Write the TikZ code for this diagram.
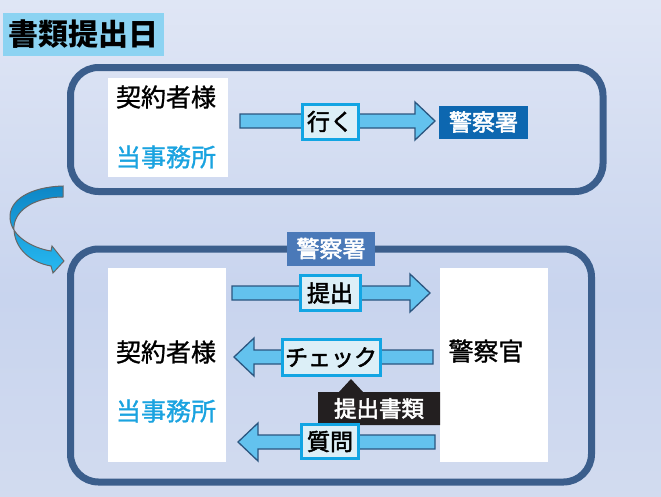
\documentclass[tikz,border=0pt]{standalone}
\usepackage{fontspec}
\setmainfont{Noto Sans CJK JP}
\newfontfamily\cjkmed{Noto Sans CJK JP}[FakeBold=1.2]
\newfontfamily\cjksemi{Noto Sans CJK JP}[FakeBold=2.2]
\usetikzlibrary{calc}
\definecolor{bgtop}{HTML}{F3F5FB}
\definecolor{bgmid}{HTML}{C8D4EE}
\definecolor{bgbot}{HTML}{DEE4F1}
\definecolor{frame}{HTML}{3B5E8C}
\definecolor{titlefill}{HTML}{8CD3F2}
\definecolor{arrfill}{HTML}{63C2EE}
\definecolor{arrline}{HTML}{2B5680}
\definecolor{lblfill}{HTML}{DCEFF7}
\definecolor{lblline}{HTML}{12A5E3}
\definecolor{darkblue}{HTML}{0D67B0}
\definecolor{midblue}{HTML}{4A79B8}
\definecolor{cyantext}{HTML}{1AA3E0}
\definecolor{callout}{HTML}{231F20}
\definecolor{curvetop}{HTML}{0E86C6}
\definecolor{curvebot}{HTML}{27B9F1}
\pgfdeclareverticalshading{bgshade}{100bp}{color(0bp)=(bgbot); color(45bp)=(bgmid); color(100bp)=(bgtop)}
\newcommand\fs[1]{\fontsize{#1pt}{#1pt}\selectfont}
\newcommand\rblk[3]{\draw[blk] (#1,#3-7) -- (#2-20,#3-7) -- (#2-20,#3-19) -- (#2,#3) -- (#2-20,#3+19) -- (#2-20,#3+7) -- (#1,#3+7) -- cycle;}
\newcommand\lblk[3]{\draw[blk] (#1,#3-7) -- (#2+20,#3-7) -- (#2+20,#3-19) -- (#2,#3) -- (#2+20,#3+19) -- (#2+20,#3+7) -- (#1,#3+7) -- cycle;}
\tikzset{
  frm/.style={draw=frame, line width=7pt, rounded corners=28pt},
  wbox/.style={fill=white, inner sep=0pt},
  blk/.style={fill=arrfill, draw=arrline, line width=1.3pt, line join=miter},
  lbl/.style={fill=lblfill, draw=lblline, line width=3pt, inner sep=0pt, font=\cjksemi\fs{23}},
  ttl/.style={fill=titlefill, inner sep=0pt, font=\bfseries\fs{30}},
  whitetxt/.style={text=white, inner sep=0pt, font=\cjksemi\fs{23}},
  blacktxt/.style={inner sep=0pt, font=\cjkmed\fs{25}, text=black},
  cyantxt/.style={inner sep=0pt, font=\cjkmed\fs{25}, text=cyantext},
}
\begin{document}
\begin{tikzpicture}[x=1pt,y=-1pt]
\useasboundingbox (0,0) rectangle (661,496);
\shade[shading=bgshade] (0,0) rectangle (661,496);
% title
\node[ttl, minimum width=161pt, minimum height=43pt] (title) at (83.5,34) {書類提出日};
% top frame
\draw[frm] (70.5,67.5) rectangle (603,191.5);
\node[wbox, minimum width=120pt, minimum height=99pt] (tl) at (168,127.5) {};
\node[blacktxt] (tlk) at (166,97) {契約者様};
\node[cyantxt] (tlt) at (166,157) {当事務所};
\rblk{240}{435}{121}
\node[lbl, minimum width=56pt, minimum height=35pt] (go) at (330,121.5) {行く};
\node[whitetxt, fill=darkblue, minimum width=89pt, minimum height=33pt] (pol1) at (483.5,122) {警察署};
% curved arrow
\shade[top color=curvetop, bottom color=curvebot, draw=gray!80!black, line width=1pt]
  (63,186) .. controls (30,187) and (9,200) .. (10,218)
  .. controls (11,236) and (32,248) .. (51,251)
  -- (52,246) -- (64,261) -- (53,273) -- (51,266)
  .. controls (28,262) and (13,246) .. (14,226)
  .. controls (16,208) and (38,197) .. (63,197) -- cycle;
% bottom frame
\draw[frm] (70.5,249) rectangle (591.5,482);
\node[whitetxt, fill=midblue, minimum width=88pt, minimum height=34pt] (pol2) at (331,248.5) {警察署};
\node[wbox, minimum width=118pt, minimum height=194pt] (bl) at (167,365) {};
\node[wbox, minimum width=108pt, minimum height=194pt] (br) at (494,365) {};
\node[blacktxt] (blk) at (166,352) {契約者様};
\node[cyantxt] (blt) at (166,411) {当事務所};
\node[blacktxt] (brk) at (486,351) {警察官};
% arrows
\rblk{232}{430}{293}
\node[lbl, minimum width=60pt, minimum height=35pt] (sub) at (330,293) {提出};
\lblk{433}{234}{357}
\node[lbl, minimum width=98pt, minimum height=36pt] (chk) at (331,357.5) {チェック};
\lblk{435}{238}{442}
% callout
\fill[callout] (318,392) -- (339,392) -- (351,379) -- (363,392) -- (440,392) -- (440,425) -- (318,425) -- cycle;
\node[whitetxt, font=\cjksemi\fs{22.5}] (doc) at (379,408.5) {提出書類};
\node[lbl, minimum width=57pt, minimum height=34pt] (q) at (330,441.5) {質問};
\end{tikzpicture}
\end{document}
